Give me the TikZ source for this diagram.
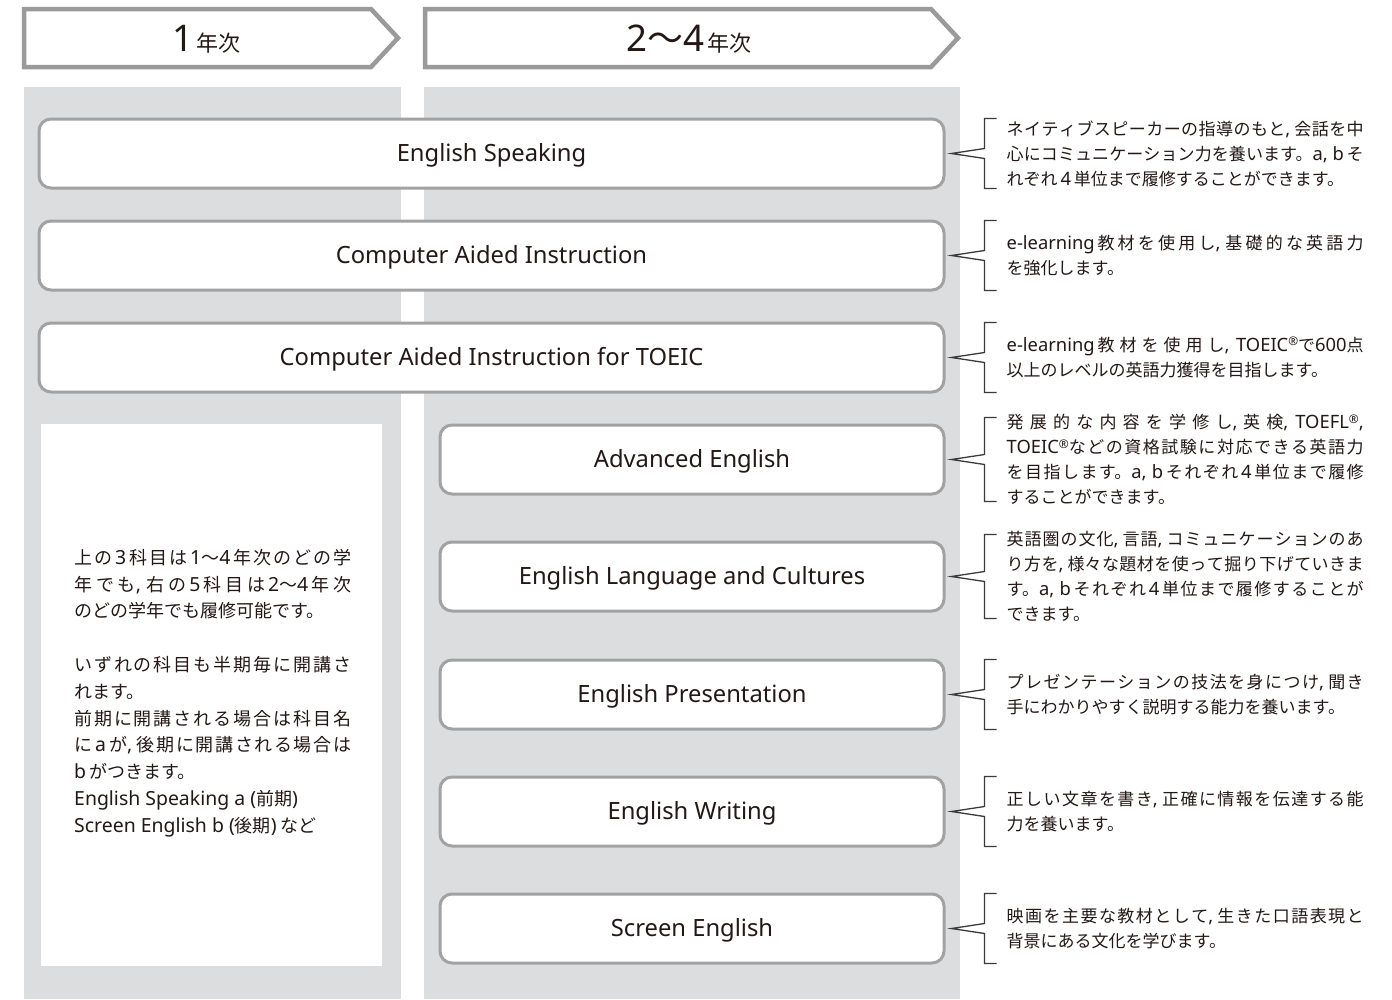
\documentclass[tikz,border=0pt]{standalone}
\usepackage{fontspec}
\setmainfont{Noto Sans CJK JP}
\newfontfamily\latinfont[Scale=1.08]{Noto Sans}
\usetikzlibrary{calc}
\XeTeXlinebreaklocale "ja"
\XeTeXlinebreakskip=0pt plus 8pt minus 1pt
\tolerance=9999
\pretolerance=-1
\definecolor{colbg}{HTML}{DCDDDE}
\definecolor{boxline}{HTML}{A2A2A2}
\definecolor{hdrline}{HTML}{9A9A9A}
\definecolor{txt}{HTML}{231815}
\definecolor{brkline}{HTML}{3A3A3A}
\newcommand\lat[1]{{\latinfont #1}}
\newcommand\myreg{\raisebox{5.5pt}{\latinfont\fontsize{11}{11}\selectfont ®}}
\newcommand\mycallout[2]{%
  \draw[brk] ($(#1.east)+(51,-#2)$) -- ($(#1.east)+(39,-#2)$) -- ($(#1.east)+(39,-5)$) -- ($(#1.east)+(6,0)$) -- ($(#1.east)+(39,5)$) -- ($(#1.east)+(39,#2)$) -- ($(#1.east)+(51,#2)$);}
\tikzset{
  hdr/.style={draw=hdrline, line width=4.5, fill=white, line join=miter},
  hdrtext/.style={text=txt, inner sep=0},
  course/.style={draw=boxline, line width=3, fill=white, rounded corners=12, text=txt,
    font=\latinfont\fontsize{22}{26}\selectfont, inner sep=0, text height=17.5, text depth=1},
  widebox/.style={course, minimum width=905, minimum height=69},
  narrowbox/.style={course, minimum width=504, minimum height=69},
  brk/.style={draw=brkline, line width=1.3, line join=miter},
  desc/.style={anchor=west, inner sep=0, text width=357, align=justify, text=txt,
    font=\fontsize{17}{25}\selectfont},
  notetext/.style={anchor=west, inner sep=0, text width=277, align=justify, text=txt,
    font=\fontsize{18}{26.8}\selectfont},
}
\begin{document}
\begin{tikzpicture}[x=1pt,y=-1pt]
\fill[white] (0,0) rectangle (1392,999);
\useasboundingbox (0,0) rectangle (1392,999);
% columns
\fill[colbg] (24,87) rectangle (401,999);
\fill[colbg] (424,87) rectangle (960,999);
% headers
\draw[hdr] (24,9) -- (371,9) -- (398,38) -- (371,67) -- (24,67) -- cycle;
\node[hdrtext] (h1) at (206,39) {{\latinfont\fontsize{34}{34}\selectfont 1}\hspace{3pt}{\fontsize{22}{22}\selectfont 年次}};
\draw[hdr] (425,9) -- (931,9) -- (958,38) -- (931,67) -- (425,67) -- cycle;
\node[hdrtext] (h2) at (689,39) {{\latinfont\fontsize{34}{34}\selectfont 2}{\fontsize{36}{36}\selectfont 〜}{\latinfont\fontsize{34}{34}\selectfont 4}\hspace{3pt}{\fontsize{22}{22}\selectfont 年次}};
% wide boxes
\node[widebox] (es) at (491.5,153.5) {English Speaking};
\node[widebox] (cai) at (491.5,255.5) {Computer Aided Instruction};
\node[widebox] (cait) at (491.5,357.5) {Computer Aided Instruction for TOEIC};
% narrow boxes
\node[narrowbox] (ae) at (692,459.5) {Advanced English};
\node[narrowbox] (elc) at (692,576.5) {English Language and Cultures};
\node[narrowbox] (ep) at (692,694.5) {English Presentation};
\node[narrowbox] (ew) at (692,811.5) {English Writing};
\node[narrowbox] (se) at (692,928.5) {Screen English};
% note box
\node[fill=white, minimum width=341, minimum height=542, inner sep=0] (note) at (211.5,695) {};
\node[notetext] (notet) at (74,693) {上の\,\lat{3}\,科目は\,\lat{1}〜\lat{4}\,年次のどの学\linebreak 年でも\lat{,} 右の\,\lat{5}\,科目は\,\lat{2}〜\lat{4}\,年次\linebreak のどの学年でも履修可能です。\par\null\par いずれの科目も半期毎に開講さ\linebreak れます。\par 前期に開講される場合は科目名\linebreak に\,\lat{a}\,が\lat{,} 後期に開講される場合は\linebreak \,\lat{b}\,がつきます。\par \lat{English Speaking a (}前期\lat{)}\par \lat{Screen English b (}後期\lat{)} など};
% callouts
\mycallout{es}{35}
\mycallout{cai}{35}
\mycallout{cait}{35}
\mycallout{ae}{42}
\mycallout{elc}{42}
\mycallout{ep}{35}
\mycallout{ew}{35}
\mycallout{se}{35}
\node[desc] (d1) at ($(es.east)+(61,0)$) {ネイティブスピーカーの指導のもと\lat{,} 会話を中\linebreak 心にコミュニケーション力を養います。\lat{a, b}\,そ\linebreak れぞれ\,\lat{4}\,単位まで履修することができます。};
\node[desc] (d2) at ($(cai.east)+(61,0)$) {\lat{e-learning}\,教材を使用し\lat{,} 基礎的な英語力\linebreak を強化します。};
\node[desc] (d3) at ($(cait.east)+(61,0)$) {\lat{e-learning}\,教材を使用し\lat{, TOEIC}\myreg で\lat{600}点\linebreak 以上のレベルの英語力獲得を目指します。};
\node[desc] (d4) at ($(ae.east)+(61,0)$) {発展的な内容を学修し\lat{,} 英検\lat{, TOEFL}\myreg\lat{,}\linebreak \lat{TOEIC}\myreg などの資格試験に対応できる英語力\linebreak を目指します。\lat{a, b}\,それぞれ\,\lat{4}\,単位まで履修\linebreak することができます。};
\node[desc] (d5) at ($(elc.east)+(61,0)$) {英語圏の文化\lat{,} 言語\lat{,} コミュニケーションのあ\linebreak り方を\lat{,} 様々な題材を使って掘り下げていきま\linebreak す。\lat{a, b}\,それぞれ\,\lat{4}\,単位まで履修することが\linebreak できます。};
\node[desc] (d6) at ($(ep.east)+(61,0)$) {プレゼンテーションの技法を身につけ\lat{,} 聞き\linebreak 手にわかりやすく説明する能力を養います。};
\node[desc] (d7) at ($(ew.east)+(61,0)$) {正しい文章を書き\lat{,} 正確に情報を伝達する能\linebreak 力を養います。};
\node[desc] (d8) at ($(se.east)+(61,0)$) {映画を主要な教材として\lat{,} 生きた口語表現と\linebreak 背景にある文化を学びます。};
\end{tikzpicture}
\end{document}
